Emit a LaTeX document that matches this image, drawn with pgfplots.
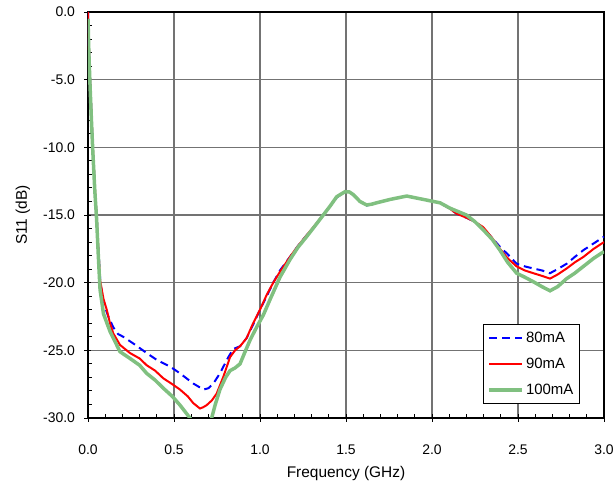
\documentclass[border=0pt]{standalone}
\usepackage{fontspec}
\setmainfont{Liberation Sans}
\usepackage{pgfplots}
\pgfplotsset{compat=1.18}
\definecolor{mygreen}{RGB}{128,192,128}
\begin{document}
\begin{tikzpicture}
\useasboundingbox (-88bp,-73bp) rectangle (527bp,418bp);
\begin{axis}[
  at={(0,0)}, anchor=south west,
  scale only axis,
  width=516bp, height=406bp,
  xmin=0, xmax=3, ymin=-30, ymax=0,
  xtick={0,0.5,...,3}, ytick={-30,-25,...,0},
  minor tick num=4,
  xtick pos=bottom, ytick pos=left,
  tick align=center,
  major tick length=7bp, minor tick length=4bp,
  minor x tick style={yshift=2bp},
  minor y tick style={xshift=2bp},
  tick style={black, line width=0.9bp},
  axis line style={line width=1.2bp},
  grid=major,
  major grid style={color=black!55, line width=1.3bp},
  /pgf/number format/.cd, fixed, fixed zerofill, precision=1, assume math mode=true,
  /pgfplots/.cd,
  tick label style={font=\fontsize{14}{16}\selectfont},
  label style={font=\fontsize{15.5}{18}\selectfont},
  xlabel={Frequency (GHz)},
  ylabel={S11 (dB)},
  xlabel style={at={(axis description cs:0.5,0)}, anchor=center, yshift=-56bp},
  ylabel style={at={(axis description cs:0,0.5)}, anchor=center, rotate=0, yshift=65bp},
  xticklabel style={anchor=center, yshift=-28bp},
  yticklabel style={anchor=east, xshift=-6bp},
  legend style={at={(0.953,0.034)}, anchor=south east, draw=black, line width=0.8bp,
    font=\fontsize{15}{17}\selectfont, row sep=10bp, inner sep=4bp, inner ysep=6bp,
    legend cell align=left},
  legend image code/.code={\draw[#1] (0bp,0bp) -- (33bp,0bp);},
]
\addplot[blue, line width=2bp, dash pattern=on 8bp off 5bp] coordinates {
(0,0) (0.005,-2.5) (0.012,-5) (0.02,-7.5) (0.028,-10) (0.04,-13) (0.05,-15) (0.06,-17.5) (0.072,-20)
(0.09,-21.5) (0.118,-22.5) (0.147,-23.3) (0.175,-23.8) (0.205,-24.0) (0.264,-24.5) (0.341,-25.2)
(0.399,-25.7) (0.477,-26.2) (0.535,-26.7) (0.612,-27.45) (0.671,-27.9) (0.70,-27.8) (0.729,-27.45)
(0.767,-26.7) (0.816,-25.5) (0.845,-24.9) (0.884,-24.7) (0.922,-24.1) (0.96,-23.1) (1.0,-22.0)
(1.039,-21.0) (1.077,-20.0) (1.116,-19.1) (1.174,-18.1) (1.22,-17.3) (1.271,-16.5) (1.32,-15.8)
(1.368,-15.0) (1.41,-14.3) (1.446,-13.7) (1.494,-13.3) (1.52,-13.3) (1.543,-13.5) (1.581,-14.0)
(1.62,-14.3) (1.65,-14.2) (1.678,-14.1) (1.756,-13.85) (1.853,-13.6) (1.95,-13.85) (2.047,-14.1)
(2.1,-14.5) (2.143,-14.9) (2.2,-15.2) (2.25,-15.5) (2.298,-16.0) (2.35,-16.7) (2.395,-17.35)
(2.44,-17.9) (2.492,-18.6) (2.54,-18.8) (2.589,-18.95) (2.64,-19.1) (2.686,-19.3) (2.73,-19.0)
(2.783,-18.6) (2.83,-18.1) (2.88,-17.6) (2.94,-17.1) (3.0,-16.6)
};
\addlegendentry{80mA}
\addplot[red, line width=2bp] coordinates {
(0,0) (0.005,-2.5) (0.012,-5) (0.02,-7.5) (0.028,-10) (0.04,-13) (0.05,-15) (0.06,-17.5) (0.07,-19.8)
(0.09,-21.2) (0.109,-22.0) (0.128,-23.0) (0.147,-23.75) (0.186,-24.6) (0.244,-25.2) (0.30,-25.6)
(0.341,-26.1) (0.39,-26.5) (0.438,-27.07) (0.49,-27.5) (0.535,-27.9) (0.58,-28.4) (0.612,-28.9)
(0.651,-29.3) (0.67,-29.2) (0.69,-29.05) (0.72,-28.7) (0.748,-28.2) (0.787,-26.95) (0.826,-25.5)
(0.855,-25.0) (0.884,-24.7) (0.922,-24.1) (0.96,-23.0) (1.0,-22.0) (1.039,-20.9) (1.077,-20.0)
(1.116,-19.2) (1.174,-18.1) (1.22,-17.3) (1.271,-16.5) (1.32,-15.75) (1.368,-15.0) (1.41,-14.3)
(1.446,-13.65) (1.494,-13.28) (1.52,-13.3) (1.543,-13.5) (1.581,-14.0) (1.62,-14.26) (1.65,-14.2)
(1.678,-14.1) (1.756,-13.85) (1.853,-13.6) (1.95,-13.85) (2.047,-14.1) (2.1,-14.5) (2.143,-14.9)
(2.2,-15.2) (2.25,-15.5) (2.298,-15.9) (2.35,-16.7) (2.395,-17.5) (2.44,-18.2) (2.492,-18.8)
(2.54,-19.1) (2.589,-19.3) (2.64,-19.5) (2.686,-19.7) (2.73,-19.4) (2.783,-18.95) (2.83,-18.5)
(2.88,-18.1) (2.94,-17.5) (3.0,-17.0)
};
\addlegendentry{90mA}
\addplot[mygreen, line width=3.5bp] coordinates {
(0,-0.5) (0.005,-3) (0.012,-5.5) (0.02,-8) (0.028,-10.3) (0.04,-13.3) (0.05,-15.3) (0.06,-18) (0.07,-20.5)
(0.09,-22.3) (0.128,-23.6) (0.186,-25.1) (0.244,-25.6) (0.30,-26.1) (0.341,-26.7) (0.39,-27.2)
(0.438,-27.8) (0.49,-28.4) (0.535,-29.05) (0.593,-30.0) (0.63,-31) (0.66,-31.5) (0.69,-31)
(0.719,-30) (0.74,-29) (0.767,-27.9) (0.80,-27.0) (0.826,-26.5) (0.855,-26.3) (0.884,-26.0)
(0.91,-25.2) (0.942,-24.25) (0.98,-23.3) (1.019,-22.4) (1.06,-21.2) (1.116,-19.6) (1.174,-18.3)
(1.22,-17.4) (1.271,-16.6) (1.32,-15.8) (1.368,-15.0) (1.41,-14.3) (1.446,-13.65) (1.494,-13.28)
(1.52,-13.3) (1.543,-13.5) (1.581,-14.0) (1.62,-14.26) (1.65,-14.2) (1.678,-14.1) (1.756,-13.85)
(1.853,-13.6) (1.95,-13.85) (2.047,-14.1) (2.105,-14.5) (2.2,-15.0) (2.25,-15.5) (2.298,-16.1)
(2.35,-16.8) (2.395,-17.6) (2.44,-18.5) (2.492,-19.3) (2.54,-19.6) (2.589,-19.93) (2.64,-20.3)
(2.686,-20.6) (2.73,-20.3) (2.783,-19.7) (2.83,-19.3) (2.88,-18.8) (2.94,-18.2) (3.0,-17.7)
};
\addlegendentry{100mA}
\end{axis}
\end{tikzpicture}
\end{document}
